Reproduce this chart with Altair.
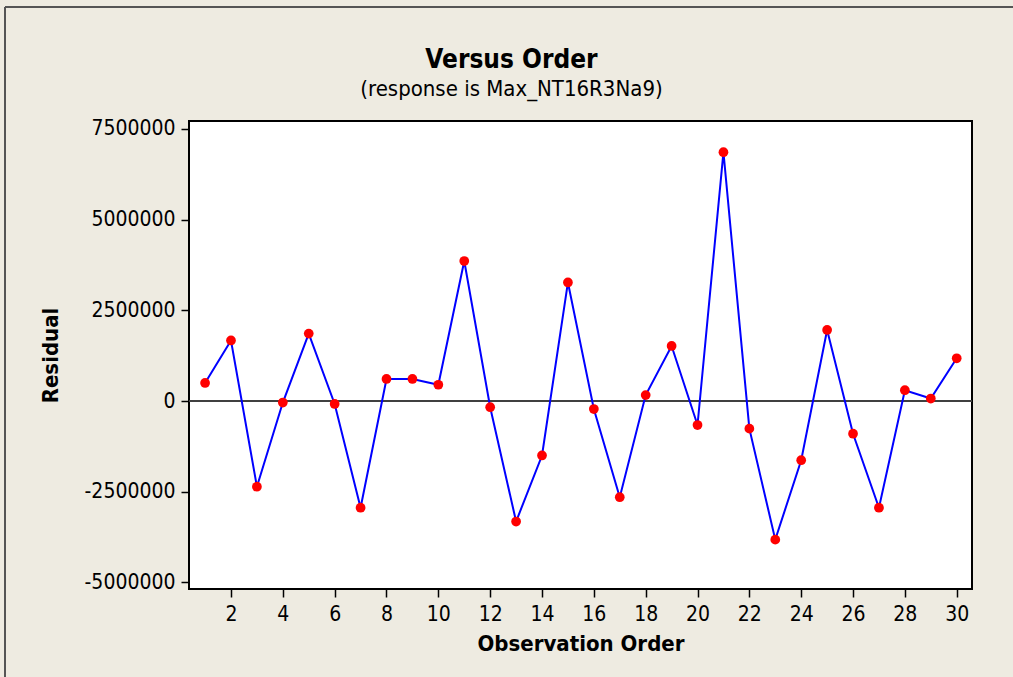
import altair as alt
import pandas as pd

# Residuals in observation order
order = list(range(1, 31))
residual = [
    500000, 1670000, -2360000, -40000, 1860000, -80000, -2940000, 610000,
    610000, 450000, 3860000, -170000, -3320000, -1500000, 3270000, -220000,
    -2650000, 165000, 1520000, -660000, 6860000, -760000, -3820000, -1630000,
    1960000, -900000, -2940000, 300000, 70000, 1180000,
]
x_ticks = list(range(2, 31, 2))
y_ticks = [-5000000, -2500000, 0, 2500000, 5000000, 7500000]

df = pd.DataFrame({"order": order, "residual": residual})

FONT = "DejaVu Sans Condensed, DejaVu Sans, sans-serif"
BG = "#EEEBE1"

x_enc = alt.X(
    "order:Q",
    scale=alt.Scale(domain=[0.38, 30.59], nice=False, zero=False),
    axis=alt.Axis(
        values=x_ticks, title="Observation Order", format="d",
        titleX=391.5, titleY=61, titleBaseline="alphabetic",
    ),
)
y_enc = alt.Y(
    "residual:Q",
    scale=alt.Scale(domain=[-5180000, 7720000], nice=False, zero=False),
    axis=alt.Axis(
        values=y_ticks, title="Residual",
        labelExpr="datum.value + ''",
        titleX=-132, titleY=234, titleBaseline="alphabetic",
    ),
)

base = alt.Chart(df)

zero_line = alt.Chart(df).mark_rule(color="#404040", strokeWidth=1.5).encode(
    y=alt.datum(0)
)
line = base.mark_line(color="#0000FF", strokeWidth=2).encode(x=x_enc, y=y_enc)
points = base.mark_circle(color="#FF0000", size=95, opacity=1).encode(
    x="order:Q", y="residual:Q"
)

# window frame around the whole graph
frame_top = alt.Chart(df).mark_rule(color="#555555", strokeWidth=2).encode(
    x=alt.value(-184), x2=alt.value(830), y=alt.value(-114)
)
frame_left = alt.Chart(df).mark_rule(color="#555555", strokeWidth=2).encode(
    x=alt.value(-184), y=alt.value(-114), y2=alt.value(560)
)

chart = (
    alt.layer(zero_line, line, points, frame_top, frame_left)
    .properties(
        width=783,
        height=468,
        autosize=alt.AutoSizeParams(type="none"),
        padding={"left": 189, "top": 121, "right": 41, "bottom": 88},
        background=BG,
        title=alt.TitleParams(
            text="Versus Order",
            subtitle="(response is Max_NT16R3Na9)",
            anchor="middle",
            frame="group",
            dx=-69,
            offset=-94,
            font=FONT,
            fontSize=26,
            fontWeight="bold",
            color="black",
            subtitleFont=FONT,
            subtitleFontSize=22,
            subtitleColor="black",
            subtitlePadding=6,
        ),
    )
    .configure_view(fill="white", stroke="black", strokeWidth=2)
    .configure_axis(
        domain=False,
        grid=False,
        ticks=True,
        tickColor="black",
        tickWidth=1.5,
        tickSize=8,
        labelFont=FONT,
        labelFontSize=21,
        labelColor="black",
        labelPadding=6,
        titleFont=FONT,
        titleFontSize=22,
        titleFontWeight="bold",
        titleColor="black",
    )
)

chart.save("out.html", embed_options={"renderer": "svg", "actions": False})
